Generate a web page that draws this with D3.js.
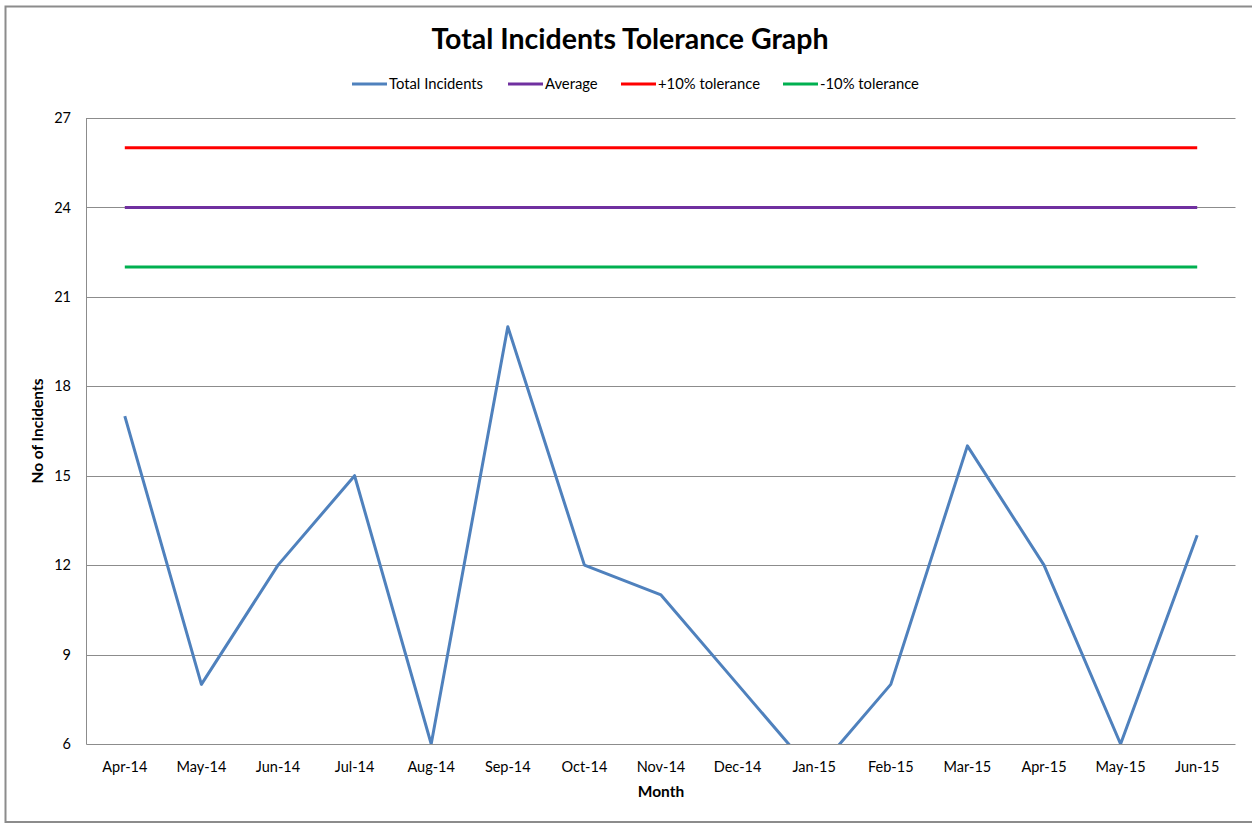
<!DOCTYPE html>
<html>
<head>
<meta charset="utf-8">
<script src="https://cdn.jsdelivr.net/npm/d3@7"></script>
<style>
  body { margin: 0; background: #fff; }
  text { font-family: Lato, "Open Sans", sans-serif; fill: #000; }
</style>
</head>
<body>
<svg id="chart" width="1252" height="825"></svg>
<script>
// chart data
var months = ["Apr-14", "May-14", "Jun-14", "Jul-14", "Aug-14", "Sep-14", "Oct-14", "Nov-14",
              "Dec-14", "Jan-15", "Feb-15", "Mar-15", "Apr-15", "May-15", "Jun-15"];
var totalIncidents = [17, 8, 12, 15, 6, 20, 12, 11, 8, 5, 8, 16, 12, 6, 13];
var average = [24, 24, 24, 24, 24, 24, 24, 24, 24, 24, 24, 24, 24, 24, 24];
var plusTolerance = [26, 26, 26, 26, 26, 26, 26, 26, 26, 26, 26, 26, 26, 26, 26];
var minusTolerance = [22, 22, 22, 22, 22, 22, 22, 22, 22, 22, 22, 22, 22, 22, 22];
var yTicks = [6, 9, 12, 15, 18, 21, 24, 27];

var series = [
    { name: "Total Incidents", values: totalIncidents, color: "#4F81BD" },
    { name: "Average", values: average, color: "#7030A0" },
    { name: "+10% tolerance", values: plusTolerance, color: "#FF0000" },
    { name: "-10% tolerance", values: minusTolerance, color: "#00B050" }
];

var svg = d3.select("#chart");
var plotLeft = 86.5, plotRight = 1235.5, plotTop = 118, plotBottom = 744;

// outer border
svg.append("rect")
    .attr("x", 5.5).attr("y", 6.5)
    .attr("width", 1260).attr("height", 815.5)
    .attr("fill", "none").attr("stroke", "#8c8c8c").attr("stroke-width", 2);

var x = d3.scaleBand().domain(months).range([plotLeft, plotRight]);
var y = d3.scaleLinear().domain([6, 27]).range([plotBottom, plotTop]);

// gridlines
svg.append("g")
    .selectAll("line")
    .data(yTicks)
    .enter().append("line")
    .attr("x1", plotLeft).attr("x2", plotRight)
    .attr("y1", function (d) { return Math.round(y(d)) + 0.5; })
    .attr("y2", function (d) { return Math.round(y(d)) + 0.5; })
    .attr("stroke", "#8c8c8c").attr("stroke-width", 1);

// y axis line
svg.append("line")
    .attr("x1", plotLeft).attr("x2", plotLeft)
    .attr("y1", plotTop).attr("y2", plotBottom + 0.5)
    .attr("stroke", "#8c8c8c");

// y tick labels
svg.append("g")
    .selectAll("text")
    .data(yTicks)
    .enter().append("text")
    .attr("x", 71)
    .attr("y", function (d) { return y(d); })
    .attr("dy", "0.35em")
    .attr("text-anchor", "end")
    .style("font-size", "14.5px")
    .text(function (d) { return d; });

// x tick labels
svg.append("g")
    .selectAll("text")
    .data(months)
    .enter().append("text")
    .attr("x", function (d) { return x(d) + x.bandwidth() / 2; })
    .attr("y", 772)
    .attr("text-anchor", "middle")
    .style("font-size", "14.5px")
    .text(function (d) { return d; });

// clip to plot area
svg.append("clipPath").attr("id", "plot-clip")
    .append("rect")
    .attr("x", plotLeft).attr("y", plotTop - 2)
    .attr("width", plotRight - plotLeft).attr("height", plotBottom - plotTop + 2);

var line = d3.line()
    .x(function (d, i) { return x(months[i]) + x.bandwidth() / 2; })
    .y(function (d) { return y(d); });

svg.append("g")
    .attr("clip-path", "url(#plot-clip)")
    .selectAll("path")
    .data(series.slice().reverse())
    .enter().append("path")
    .attr("d", function (d) { return line(d.values); })
    .attr("fill", "none")
    .attr("stroke", function (d) { return d.color; })
    .attr("stroke-width", 3)
    .attr("stroke-linejoin", "round");

// title
svg.append("text")
    .attr("x", 630).attr("y", 49)
    .attr("text-anchor", "middle")
    .style("font-size", "28.5px")
    .style("font-weight", "bold")
    .text("Total Incidents Tolerance Graph");

// axis titles
svg.append("text")
    .attr("transform", "translate(43," + (plotTop + plotBottom) / 2 + ")rotate(-90)")
    .attr("text-anchor", "middle")
    .style("font-size", "15.5px")
    .style("font-weight", "bold")
    .text("No of Incidents");

svg.append("text")
    .attr("x", (plotLeft + plotRight) / 2).attr("y", 797)
    .attr("text-anchor", "middle")
    .style("font-size", "15.5px")
    .style("font-weight", "bold")
    .text("Month");

// legend
var legendX = [352, 508, 621, 783];
var legend = svg.append("g")
    .selectAll("g")
    .data(series)
    .enter().append("g")
    .attr("transform", function (d, i) { return "translate(" + legendX[i] + ",84)"; });
legend.append("line")
    .attr("x1", 0).attr("x2", 35)
    .attr("stroke", function (d) { return d.color; })
    .attr("stroke-width", 3);
legend.append("text")
    .attr("x", 37).attr("dy", "0.35em")
    .style("font-size", "14.8px")
    .text(function (d) { return d.name; });
</script>
</body>
</html>
